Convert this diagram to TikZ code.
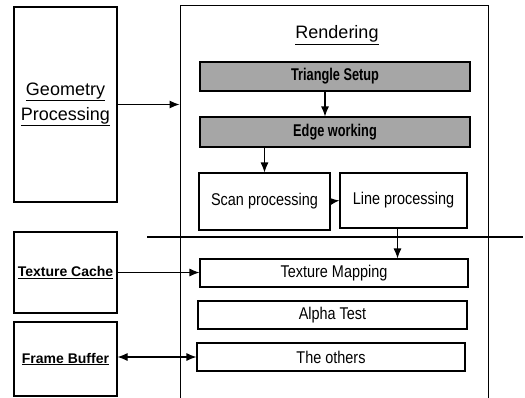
\documentclass[tikz,border=0pt]{standalone}
\usepackage{fontspec}
\setmainfont{Liberation Sans}
\newfontfamily\narrowfont[FakeStretch=0.85]{Liberation Sans}
\newfontfamily\narrowbold[FakeStretch=0.75]{Liberation Sans Bold}
\usepackage{tikz}
\usetikzlibrary{arrows.meta}

\begin{document}
\begin{tikzpicture}[x=1pt,y=-1pt,
  box/.style={draw,line width=1.1pt,inner sep=0pt},
  stage/.style={box,minimum height=28pt,font=\narrowfont\fontsize{17}{20}\selectfont},
  shaded/.style={stage,fill=black!35,font=\narrowbold\fontsize{17}{20}\selectfont},
  unit/.style={box,minimum width=103pt,align=center},
  tip/.tip={Latex[length=10pt,width=8pt]},
  arr/.style={-tip,line width=1.1pt},
  dblarr/.style={tip-tip,line width=1.1pt}]

\useasboundingbox (0,0) rectangle (525,397);

% Units on the left
\node[unit,minimum height=195pt,font=\fontsize{18}{25}\selectfont] (geo) at (65.5,104.5)
  {\underline{Geometry}\\\underline{Processing}};
\node[unit,minimum height=81pt,font=\bfseries\fontsize{14}{17}\selectfont] (cache) at (65.5,272.5)
  {\underline{Texture Cache}};
\node[unit,minimum height=74pt,font=\bfseries\fontsize{14}{17}\selectfont] (fbuf) at (65.5,359)
  {\underline{Frame Buffer}};

% Rendering block (runs off the bottom)
\node[draw,line width=0.9pt,minimum width=308pt,minimum height=405pt] (rend) at (334,207.5) {};
\node[font=\fontsize{18}{22}\selectfont] (title) at (337,35) {\underline{Rendering}};

% Pipeline stages
\node[shaded,minimum width=270pt,minimum height=29pt] (tri) at (335,76.5) {Triangle Setup};
\node[shaded,minimum width=270pt,minimum height=30pt] (edge) at (335,132) {Edge working};
\node[stage,minimum width=131pt,minimum height=57pt] (scan) at (264.5,201.5) {Scan processing};
\node[stage,minimum width=127pt,minimum height=55pt] (line) at (403.5,200.5) {Line processing};
\node[stage,minimum width=268pt] (tmap) at (334,273) {Texture Mapping};
\node[stage,minimum width=269pt] (alpha) at (332.5,315) {Alpha Test};
\node[stage,minimum width=268pt] (others) at (331,357) {The others};

% Divider
\coordinate (divL) at (147,237);
\coordinate (divR) at (523,237);
\draw[line width=2.6pt] (divL) -- (divR);

% Arrows
\draw[arr] (geo.east) -- (geo.east -| rend.west);
\draw[arr] ([xshift=-10pt]tri.south) -- ([xshift=-10pt]tri.south |- edge.north);
\draw[arr] (edge.south -| scan.north) -- (scan.north);
\draw[arr] (scan.east) -- (line.west);
\draw[arr] ([xshift=-6pt]line.south) -- ([xshift=-6pt]line.south |- tmap.north);
\draw[arr] (cache.east) -- (cache.east -| tmap.west);
\draw[dblarr] (others.west -| fbuf.east) -- (others.west);
\end{tikzpicture}
\end{document}
